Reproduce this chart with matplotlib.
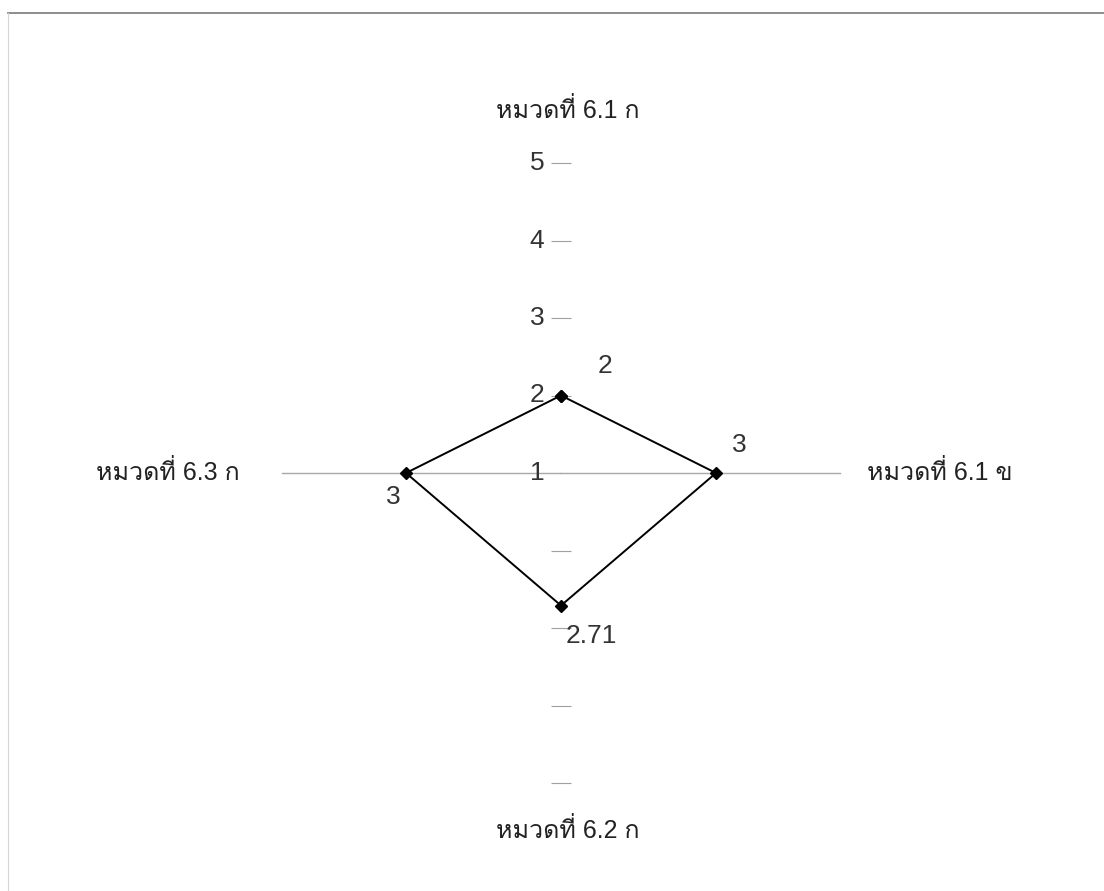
import numpy as np
import matplotlib
matplotlib.use("Agg")
import matplotlib.pyplot as plt

# ── Data ─────────────────────────────────────────────────────────────────────
categories = ["หมวดที่ 6.1 ก", "หมวดที่ 6.1 ข", "หมวดที่ 6.2 ก", "หมวดที่ 6.3 ก"]
values = [2, 3, 2.71, 3]
value_labels = ["2", "3", "2.71", "3"]
r_ticks = [1, 2, 3, 4, 5]

# Latin digits from Liberation Sans, Thai glyphs fall through to Loma
plt.rcParams["font.family"] = ["Liberation Sans", "Loma", "Noto Sans Thai", "DejaVu Sans"]

fig = plt.figure(figsize=(11.04, 8.91), dpi=100)
ax = fig.add_axes([251 / 1104, 108 / 891, 620 / 1104, 620 / 891], projection="polar")
ax.set_theta_zero_location("N")
ax.set_theta_direction(-1)
ax.set_ylim(1, 5)
ax.grid(False)
ax.spines["polar"].set_visible(False)
ax.set_xticks([])
ax.set_yticks([])
ax.patch.set_alpha(0)

theta = np.arange(len(categories)) * 2 * np.pi / len(categories)

# horizontal axis line (left/right spokes)
for t in (theta[1], theta[3]):
    ax.plot([t, t], [1, 4.6], color="#a8a8a8", lw=1.0, zorder=1)

# tick dashes on the vertical axis (up and down)
for t in (theta[0], theta[2]):
    ax.plot([t] * len(r_ticks[1:]), r_ticks[1:], ls="none", marker="_",
            ms=15, mew=0.8, color="#a0a0a0", zorder=1, clip_on=False)
for r in r_ticks:
    ax.annotate(str(r), (theta[0], r), xytext=(-12, 0), textcoords="offset points",
                ha="right", va="center", fontsize=19, color="#333333")

# data polygon
tt = np.append(theta, theta[0])
vv = np.append(values, values[0])
ax.plot(tt, vv, color="black", lw=1.4, marker="D", ms=6, zorder=3)

# data labels
offsets = [(32, 21), (17, 20), (22, -22), (-9, -17)]
for t, v, lab, off in zip(theta, values, value_labels, offsets):
    ax.annotate(lab, (t, v), xytext=off, textcoords="offset points",
                ha="center", va="center", fontsize=19, color="#333333")

# category labels
cat_pos = [(568, 110), (940, 473), (568, 830), (168, 473)]
for lab, (x, y) in zip(categories, cat_pos):
    fig.text(x / 1104, 1 - y / 891, lab, ha="center", va="center",
             fontsize=18, color="#222222")

# scan frame
fig.add_artist(plt.Line2D([8 / 1104, 1], [1 - 13 / 891] * 2, color="#7a7a7a", lw=1.2))
fig.add_artist(plt.Line2D([8 / 1104] * 2, [0, 1 - 13 / 891], color="#d5d5d5", lw=0.8))

fig.savefig("out.png", dpi=100)
